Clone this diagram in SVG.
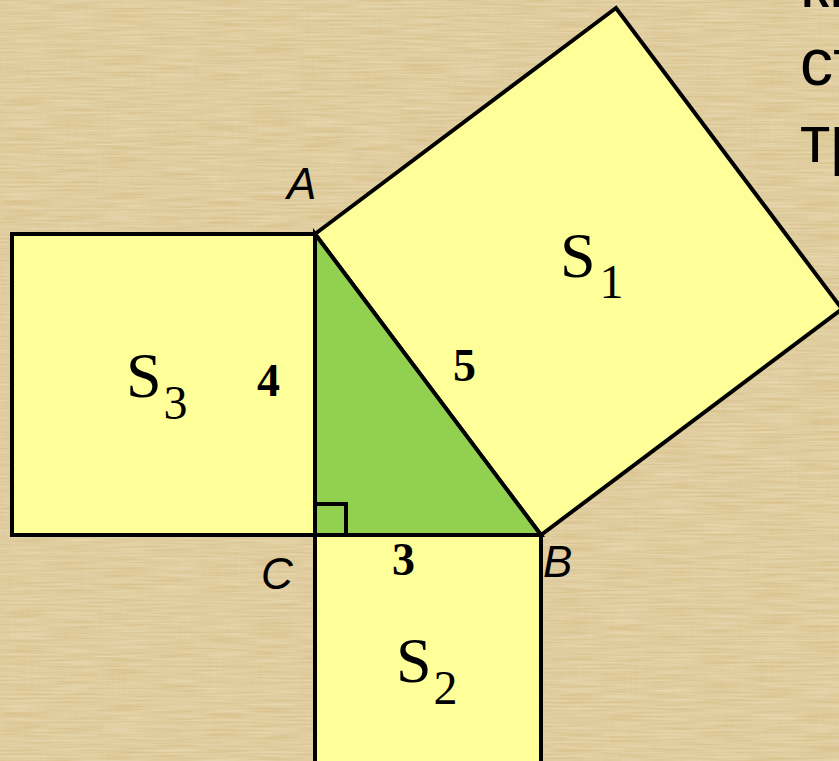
<svg xmlns="http://www.w3.org/2000/svg" width="839" height="761" viewBox="0 0 839 761">
<defs>
<filter id="papyrus" x="0" y="0" width="100%" height="100%">
<feTurbulence type="fractalNoise" baseFrequency="0.5 0.02" numOctaves="2" seed="3" result="n1"/>
<feColorMatrix in="n1" type="matrix" values="0 0 0 0 0.62  0 0 0 0 0.5  0 0 0 0 0.28  0 0 0 0.6 -0.12" result="c1"/>
<feTurbulence type="fractalNoise" baseFrequency="0.02 0.5" numOctaves="2" seed="7" result="n2"/>
<feColorMatrix in="n2" type="matrix" values="0 0 0 0 0.96  0 0 0 0 0.9  0 0 0 0 0.68  0 0 0 0.6 -0.12" result="c2"/>
<feMerge><feMergeNode in="SourceGraphic"/><feMergeNode in="c1"/><feMergeNode in="c2"/></feMerge>
</filter>
<style>
.sq{fill:#ffff99;stroke:#000;stroke-width:4;stroke-linejoin:miter}
.tri{fill:#92d050;stroke:#000;stroke-width:4;stroke-linejoin:miter}
.ra{fill:none;stroke:#000;stroke-width:4}
.pt{font-family:"Liberation Sans",Arial,sans-serif;font-style:italic;font-size:44px;fill:#000}
.num{font-family:"Liberation Serif","Times New Roman",serif;font-weight:bold;font-size:46px;fill:#000}
.s{font-family:"Liberation Serif","Times New Roman",serif;font-size:64px;fill:#000}
.sub{font-size:48px}
.side{font-family:"Liberation Sans",Arial,sans-serif;font-size:66px;fill:#000}
</style>
</defs>
<rect x="0" y="0" width="839" height="761" fill="#dcc48e" filter="url(#papyrus)"/>
<g id="text-right">
<text class="side" x="800" y="7">кв</text>
<text class="side" x="800" y="85">ст</text>
<text class="side" x="800" y="162">тр</text>
</g>
<g id="square-S1">
<polygon class="sq" points="315,234 616,8 842,309 541,535"/>
<text class="s" x="560" y="277">S<tspan class="sub" dx="4" dy="21">1</tspan></text>
</g>
<g id="square-S3">
<rect class="sq" x="12" y="234" width="303" height="301"/>
<text class="s" x="126" y="397">S<tspan class="sub" dx="2" dy="22">3</tspan></text>
</g>
<g id="square-S2">
<rect class="sq" x="315" y="535" width="226" height="230"/>
<text class="s" x="396" y="682">S<tspan class="sub" dx="2" dy="22">2</tspan></text>
</g>
<g id="triangle-ABC">
<polygon class="tri" points="315,234 541,535 315,535"/>
<rect class="ra" x="315" y="504" width="31" height="31"/>
</g>
<g id="labels">
<text class="pt" x="287" y="199">A</text>
<text class="pt" x="543" y="577">B</text>
<text class="pt" x="261" y="589">C</text>
<text class="num" x="257" y="396">4</text>
<text class="num" x="392" y="575">3</text>
<text class="num" x="453" y="381">5</text>
</g>
</svg>
